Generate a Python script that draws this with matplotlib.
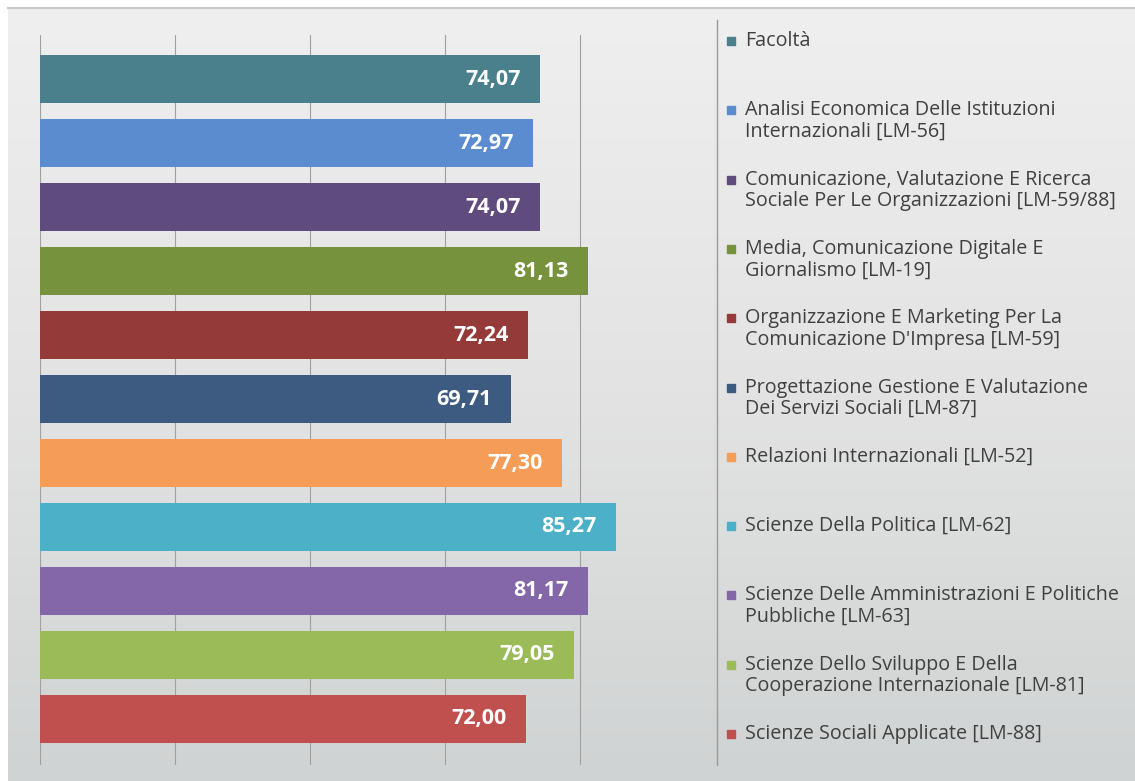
import numpy as np
import matplotlib.pyplot as plt
from matplotlib.patches import Rectangle

plt.rcParams['font.family'] = ['Open Sans', 'DejaVu Sans']

# data
corsi = [
    "Facoltà",
    "Analisi Economica Delle Istituzioni\nInternazionali [LM-56]",
    "Comunicazione, Valutazione E Ricerca\nSociale Per Le Organizzazioni [LM-59/88]",
    "Media, Comunicazione Digitale E\nGiornalismo [LM-19]",
    "Organizzazione E Marketing Per La\nComunicazione D'Impresa [LM-59]",
    "Progettazione Gestione E Valutazione\nDei Servizi Sociali [LM-87]",
    "Relazioni Internazionali [LM-52]",
    "Scienze Della Politica [LM-62]",
    "Scienze Delle Amministrazioni E Politiche\nPubbliche [LM-63]",
    "Scienze Dello Sviluppo E Della\nCooperazione Internazionale [LM-81]",
    "Scienze Sociali Applicate [LM-88]",
]
valori = [74.07, 72.97, 74.07, 81.13, 72.24, 69.71, 77.30, 85.27, 81.17, 79.05, 72.00]
colori = ["#4a7f8c", "#5b8cd0", "#5f4b7e", "#76923c", "#943a38", "#3d5a80",
          "#f59d56", "#4cb0c9", "#8467a8", "#9bbb59", "#c0504d"]

W, H = 1135, 781
fig = plt.figure(figsize=(W / 100, H / 100), dpi=100)
fig.patch.set_facecolor("white")

# sfondo del pannello (gradiente grigio)
bg = fig.add_axes([8 / W, 0, 1 - 8 / W, (H - 8) / H])
grad = np.linspace(0, 1, 200)[:, None] * np.ones((1, 50))
bg.imshow(grad, aspect="auto", cmap=plt.cm.colors.LinearSegmentedColormap.from_list(
    "g", ["#efefef", "#e3e3e3", "#d0d3d3"]), extent=[0, 1, 0, 1], origin="upper")
bg.set_axis_off()
fig.add_artist(plt.Line2D([8 / W, 1], [(H - 8) / H] * 2, color="#c8c8c8", lw=1.5))

ax = fig.add_axes([40 / W, (H - 765) / H, (715 - 40) / W, (765 - 35) / H])
ax.patch.set_alpha(0)
y = np.arange(len(valori))
bars = ax.barh(y, valori, height=0.75, color=colori)
ax.set_xlim(0, 100)
ax.set_ylim(10.72, -0.69)
ax.set_xticks([0, 20, 40, 60, 80, 100])
ax.grid(axis="x", color="#a0a0a0", lw=0.8)
ax.set_axisbelow(True)
ax.tick_params(length=0, labelbottom=False, labelleft=False)
for s in ax.spines.values():
    s.set_visible(False)

for b, v in zip(bars, valori):
    ax.text(v - 2.8, b.get_y() + b.get_height() / 2, f"{v:.2f}".replace(".", ","),
            ha="right", va="center", color="white", fontsize=15.5, fontweight="bold")

# legenda
fig.add_artist(plt.Line2D([717 / W] * 2, [(H - 765) / H, (H - 20) / H], color="#9a9a9a", lw=1))
passo = (734 - 41) / (len(corsi) - 1)
for i, (nome, c) in enumerate(zip(corsi, colori)):
    yc = 41 + i * passo
    fig.add_artist(Rectangle((727 / W, (H - yc - 4) / H), 8 / W, 8 / H, color=c,
                             transform=fig.transFigure))
    for k, riga in enumerate(nome.split("\n")):
        fig.text(745 / W, (H - yc - k * 21.5) / H, riga, fontsize=14.2, color="#404040",
                 va="center", ha="left")

fig.savefig("out.png", dpi=100)
